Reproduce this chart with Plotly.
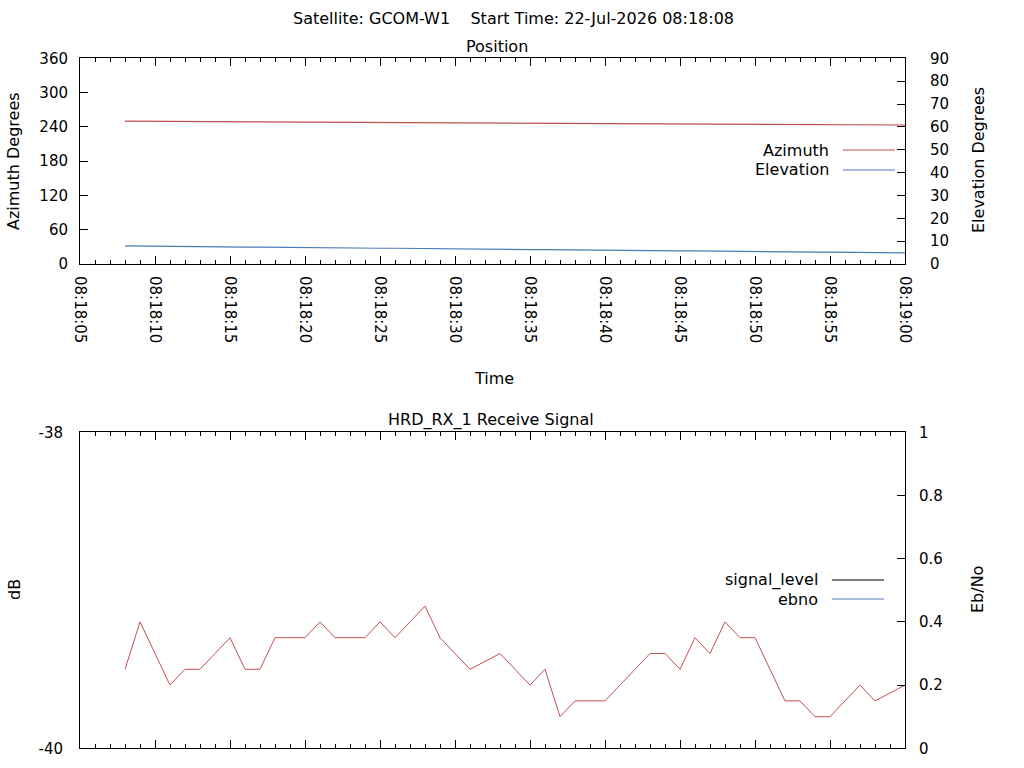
import pandas as pd
import plotly.graph_objects as go

W, H = 1024, 768

# ---------------- data ----------------
start_time = "2026-07-22 08:18:08"
times = pd.date_range(start_time, periods=53, freq="s")

azimuth = [250.0, 249.9, 249.7, 249.6, 249.5, 249.4, 249.2, 249.1, 249.0, 248.8,
           248.7, 248.6, 248.5, 248.3, 248.2, 248.1, 247.9, 247.8, 247.7, 247.6,
           247.4, 247.3, 247.2, 247.0, 246.9, 246.8, 246.7, 246.5, 246.4, 246.3,
           246.1, 246.0, 245.9, 245.8, 245.6, 245.5, 245.4, 245.2, 245.1, 245.0,
           244.9, 244.7, 244.6, 244.5, 244.3, 244.2, 244.1, 244.0, 243.8, 243.7,
           243.6, 243.4, 243.3]

elevation = [7.9, 7.8, 7.8, 7.7, 7.7, 7.6, 7.6, 7.5, 7.4, 7.4,
             7.3, 7.3, 7.2, 7.1, 7.1, 7.0, 7.0, 6.9, 6.9, 6.8,
             6.7, 6.7, 6.6, 6.6, 6.5, 6.4, 6.4, 6.3, 6.3, 6.2,
             6.2, 6.1, 6.0, 6.0, 5.9, 5.9, 5.8, 5.7, 5.7, 5.6,
             5.6, 5.5, 5.5, 5.4, 5.3, 5.3, 5.2, 5.2, 5.1, 5.0,
             5.0, 4.9, 4.9]

ebno = [0.25, 0.4, 0.3, 0.2, 0.25, 0.25, 0.3, 0.35, 0.25, 0.25,
        0.35, 0.35, 0.35, 0.4, 0.35, 0.35, 0.35, 0.4, 0.35, 0.4,
        0.45, 0.35, 0.3, 0.25, 0.275, 0.3, 0.25, 0.2, 0.25, 0.1,
        0.15, 0.15, 0.15, 0.2, 0.25, 0.3, 0.3, 0.25, 0.35, 0.3,
        0.4, 0.35, 0.35, 0.25, 0.15, 0.15, 0.1, 0.1, 0.15, 0.2,
        0.15, 0.175, 0.2]

signal_level = []          # no visible samples in the reference (off-scale)
signal_times = []

x_range = ["2026-07-22 08:18:05", "2026-07-22 08:19:00"]
az_ticks = [0, 60, 120, 180, 240, 300, 360]
el_ticks = [0, 10, 20, 30, 40, 50, 60, 70, 80, 90]
db_ticks = [-40, -38]
db_labels = ["-40", "-38"]
ebno_ticks = [0, 0.2, 0.4, 0.6, 0.8, 1]

main_title = "Satellite: GCOM-W1    Start Time: 22-Jul-2026 08:18:08"

# ---------------- styling ----------------
RED = "#c0504d"
BLUE = "#4a7ebb"
TICKFONT = dict(family="DejaVu Sans", size=15, color="#000000")
TEXTFONT = dict(family="DejaVu Sans", size=16, color="#000000")

def px(x):
    return x / W

def py(y):
    return 1 - y / H

xdom = [px(80), px(905)]
top_dom = [py(264), py(58.3)]
bot_dom = [py(748.3), py(432.3)]

fig = go.Figure()

fig.add_trace(go.Scatter(x=times, y=azimuth, mode="lines", name="Azimuth",
                         line=dict(color=RED, width=1.2), xaxis="x", yaxis="y"))
fig.add_trace(go.Scatter(x=times, y=elevation, mode="lines", name="Elevation",
                         line=dict(color=BLUE, width=1.2), xaxis="x", yaxis="y2"))
fig.add_trace(go.Scatter(x=signal_times, y=signal_level, mode="lines", name="signal_level",
                         line=dict(color="#000000", width=1), xaxis="x2", yaxis="y3"))
fig.add_trace(go.Scatter(x=times, y=ebno, mode="lines", name="ebno",
                         line=dict(color=RED, width=1), xaxis="x2", yaxis="y4"))

xcommon = dict(
    type="date", range=x_range, domain=xdom, automargin=False,
    showline=True, linecolor="#000", linewidth=1, mirror="ticks",
    ticks="inside", ticklen=8, tickcolor="#000", tickwidth=1,
    dtick=5000, tick0="2026-07-22 08:18:05",
    minor=dict(ticks="inside", ticklen=4, dtick=1000, tickcolor="#000", tickwidth=1),
    showgrid=False, zeroline=False, tickfont=TICKFONT,
)
ycommon = dict(automargin=False, showline=True, linecolor="#000", linewidth=1,
               tickcolor="#000", showgrid=False, zeroline=False, tickfont=TICKFONT)

fig.update_layout(
    width=W, height=H,
    margin=dict(l=0, r=0, t=0, b=0, autoexpand=False),
    paper_bgcolor="white", plot_bgcolor="white",
    showlegend=False,
    font=TEXTFONT,
    xaxis=dict(**xcommon, anchor="y", tickformat="%H:%M:%S", tickangle=90,
               showticklabels=True, ticklabelstandoff=8),
    xaxis2=dict(**xcommon, anchor="y3", showticklabels=False),
    yaxis=dict(**ycommon, domain=top_dom, range=[0, 360], tickvals=az_ticks, anchor="x",
               ticks="inside", ticklen=8, ticklabelstandoff=8),
    yaxis2=dict(**ycommon, range=[0, 90], tickvals=el_ticks, overlaying="y", side="right",
                anchor="x", ticks="inside", ticklen=8, ticklabelstandoff=21),
    yaxis3=dict(**ycommon, domain=bot_dom, range=[-40, -38], tickvals=db_ticks,
                ticktext=db_labels, anchor="x2", ticks="", ticklabelstandoff=13),
    yaxis4=dict(**ycommon, range=[0, 1], tickvals=ebno_ticks, overlaying="y3", side="right",
                anchor="x2", ticks="inside", ticklen=8, ticklabelstandoff=10),
)

def ann(text, x, y, angle=0, xanchor="center"):
    fig.add_annotation(text=text, x=px(x), y=py(y), xref="paper", yref="paper",
                       showarrow=False, textangle=angle, xanchor=xanchor, yanchor="middle",
                       font=TEXTFONT)

ann(main_title, 513, 18)
ann("Position", 497, 46)
ann("Time", 494, 379)
ann("HRD_RX_1 Receive Signal", 491, 420)
ann("Azimuth Degrees", 14, 161, angle=-90)
ann("Elevation Degrees", 978, 160, angle=-90)
ann("dB", 14, 590, angle=-90)
ann("Eb/No", 977, 590, angle=-90)

# legend entries (text right-aligned with line sample to the right)
legend_items = [("Azimuth", RED, 150), ("Elevation", BLUE, 170),
                ("signal_level", "#000000", 580), ("ebno", BLUE, 599)]
for name, col, ly in legend_items:
    right = 831 if ly < 300 else 820
    x0, x1 = (843, 895) if ly < 300 else (832, 884)
    ann(name, right, ly, xanchor="right")
    fig.add_shape(type="line", xref="paper", yref="paper",
                  x0=px(x0), x1=px(x1), y0=py(ly), y1=py(ly),
                  line=dict(color=col, width=1))

# remove the browser's default 8px body margin so the 1024x768 figure fills the window
fig.write_html("out.html",
               config={"displayModeBar": False, "staticPlot": True},
               post_script="document.body.style.margin='0';"
                           "document.body.style.overflow='hidden';")
